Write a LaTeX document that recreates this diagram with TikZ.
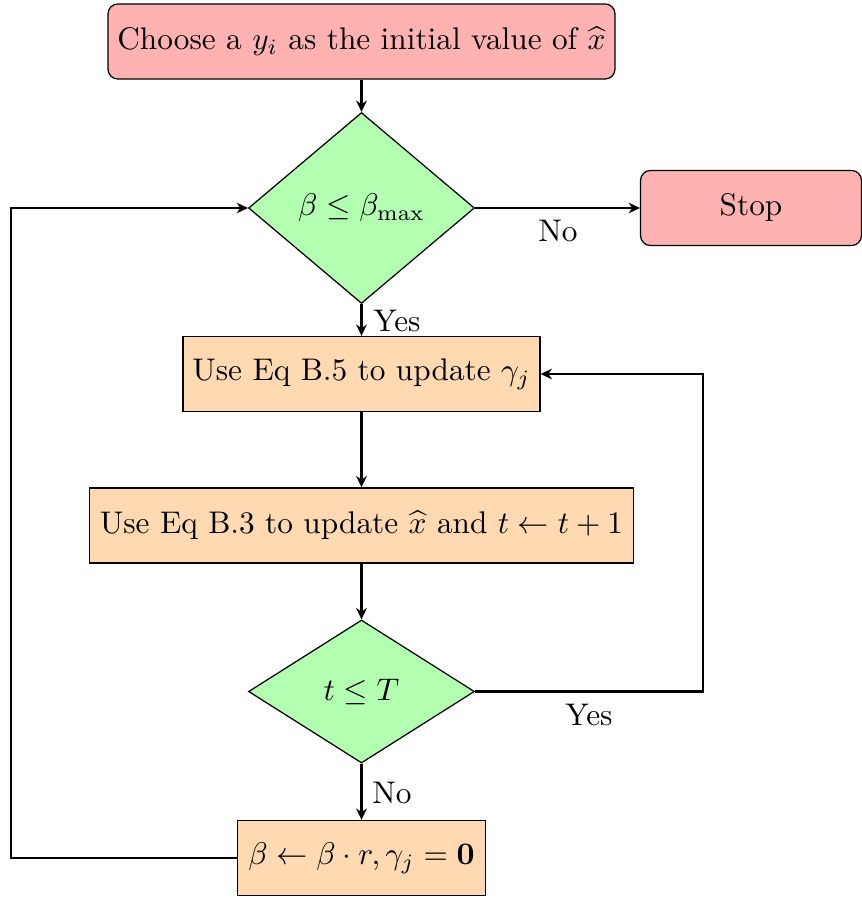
\documentclass[tikz,border=0pt]{standalone}
\usetikzlibrary{shapes.geometric,arrows.meta}
\tikzset{
  conn/.style={line width=0.7pt,-{Stealth[length=3.6pt,width=3.4pt]}},
  termbox/.style={draw,rounded corners=3.2pt,fill=red!30,line width=0.4pt,
    minimum width=#1,minimum height=24pt,inner sep=2pt},
  procbox/.style={draw,fill=orange!30,line width=0.4pt,
    minimum width=#1,minimum height=24pt,inner sep=2pt},
  decbox/.style={draw,diamond,fill=green!30,line width=0.4pt,aspect=1,
    inner sep=0pt,minimum width=72.2pt,minimum height=#1},
  lbl/.style={inner sep=0pt}
}
\begin{document}
\begin{tikzpicture}[x=0.3195pt,y=-0.3195pt]
  \useasboundingbox (0,0) rectangle (862,899);

  % nodes
  \node[termbox=162pt] (start) at (361.5,41.5) {Choose a $y_i$ as the initial value of $\widehat{x}$};
  \node[decbox=61pt] (d1) at (361.5,208) {$\beta \leq \beta_{\max}$};
  \node[termbox=70.6pt] (stop) at (751,208) {Stop};
  \node[procbox=114.1pt] (gam) at (361.5,374) {Use Eq B.5 to update $\gamma_j$};
  \node[procbox=173.8pt] (xup) at (361.5,525.5) {Use Eq B.3 to update $\widehat{x}$ and $t \leftarrow t+1$};
  \node[decbox=45.7pt] (d2) at (361.5,691.5) {$t \leq T$};
  \node[procbox=79.2pt] (beta) at (361.5,858) {$\beta \leftarrow \beta\cdot r, \gamma_j = \mathbf{0}$};

  % turning points of the two loops
  \coordinate (rx) at (703,691.5);
  \coordinate (lx) at (11,858);

  % connectors
  \draw[conn] (start) -- (d1);
  \draw[conn] (d1.east) -- (stop.west);
  \draw[conn] (d1.south) -- (gam.north);
  \draw[conn] (gam) -- (xup);
  \draw[conn] (xup.south) -- (d2.north);
  \draw[conn] (d2.south) -- (beta.north);
  \draw[conn] (d2.east) -- (rx) |- (gam.east);
  \draw[conn] (beta.west) -- (lx) |- (d1.west);

  % branch labels
  \node[lbl] (no1) at (558,231) {No};
  \node[lbl] (yes1) at (397,321) {Yes};
  \node[lbl] (yes2) at (589,715) {Yes};
  \node[lbl] (no2) at (392,793) {No};
\end{tikzpicture}
\end{document}
